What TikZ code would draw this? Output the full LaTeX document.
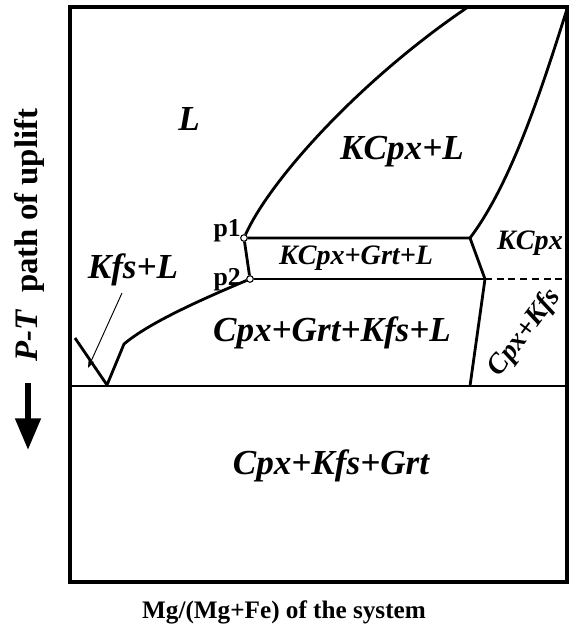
\documentclass[tikz,border=0pt]{standalone}
\usepackage{fontspec}
\setmainfont{Liberation Serif}
\usetikzlibrary{arrows.meta}

\begin{document}
\begin{tikzpicture}[
		x={(0.03cm,0cm)},
		y={(0cm,-0.03cm)},
		>=Stealth,
		phase/.style={line width=2.4pt, line join=round},
		frm/.style={line width=3pt},
		pt/.style={circle, draw, fill=white, line width=0.8pt, inner sep=0pt, minimum size=5.5pt},
		big/.style={font=\fontsize{30}{30}\selectfont\bfseries\itshape, inner sep=0pt},
		mid/.style={font=\fontsize{24}{24}\selectfont\bfseries\itshape, inner sep=0pt},
		ptlab/.style={font=\fontsize{22}{22}\selectfont\bfseries, inner sep=0pt}
		]
		\useasboundingbox (0,0) rectangle (571,631);
		
		% frame and solidus line
		\coordinate (nw) at (70,7);
		\coordinate (se) at (567,582);
		\coordinate (bl) at (70,386);
		\coordinate (br) at (567,386);
		\draw[frm] (nw) rectangle (se);
		\draw[phase] (bl) -- (br);
		
		% invariant points
		\node[pt] (p1) at (244,238) {};
		\node[pt] (p2) at (250,279) {};
		\coordinate (q1) at (470,238);
		\coordinate (q2) at (485,279);
		\coordinate (q3) at (470,386);
		\coordinate (top1) at (468,7);
		\coordinate (top2) at (567,9);
		\coordinate (r2) at (567,279);
		\coordinate (kink) at (124,344);
		\coordinate (vb) at (107,385);
		\coordinate (vl) at (75,338);
		
		% phase boundaries
		\draw[phase] (p1) .. controls (270,180) and (360,80) .. (top1);
		\draw[phase] (top2) .. controls (540,95) and (510,185) .. (q1);
		\draw[phase] (p1) -- (q1) -- (q2) -- (q3);
		\draw[phase] (p2) -- (q2);
		\draw[phase] (p1) -- (p2);
		\draw[phase] (p2) .. controls (205,298) and (150,322) .. (kink) -- (vb) -- (vl);
		\draw[line width=1.4pt, dash pattern=on 6pt off 4pt] (q2) -- (r2);
		\node[pt] at (p1) {};
		\node[pt] at (p2) {};
		
		% field labels
		\node[big] (liq) at (189,119) {L};
		\node[big] (kcpxl) at (402,152) {KCpx+L};
		\node[mid] (kcpxgrtl) at (356,258) {KCpx+Grt+L};
		\node[mid] (kcpx) at (530,243) {KCpx};
		\node[big] (cgkl) at (332,333) {Cpx+Grt+Kfs+L};
		\node[big] (ckg) at (331,466) {Cpx+Kfs+Grt};
		\node[mid, rotate=53] (ck) at (525,333) {Cpx+Kfs};
		\node[big] (kfsl) at (133,270) {Kfs+L};
		\node[ptlab, anchor=east] (lp1) at (241,231) {p1};
		\node[ptlab, anchor=east] (lp2) at (241,280) {p2};
		
		% pointer to the Kfs+L field
		\coordinate (ptr) at (122,293);
		\coordinate (ptrend) at (88,368);
		\draw[line width=0.8pt, -{Stealth[length=7pt,width=5pt]}] (ptr) -- (ptrend);
		
		% axes
		\node[font=\fontsize{28}{28}\selectfont\bfseries, rotate=90, inner sep=0pt] (ax) at (29,235)
		{\textit{P-T}\hspace{0.5em}path of uplift};
		\coordinate (ar1) at (28,383);
		\coordinate (ar2) at (28,450);
		\draw[line width=5pt, -{Triangle[length=27pt,width=21pt]}] (ar1) -- (ar2);
		\node[font=\fontsize{21.5}{21.5}\selectfont\bfseries, inner sep=0pt] (cap) at (284,612)
		{Mg/(Mg+Fe) of the system};
		
	\end{tikzpicture}
\end{document}
